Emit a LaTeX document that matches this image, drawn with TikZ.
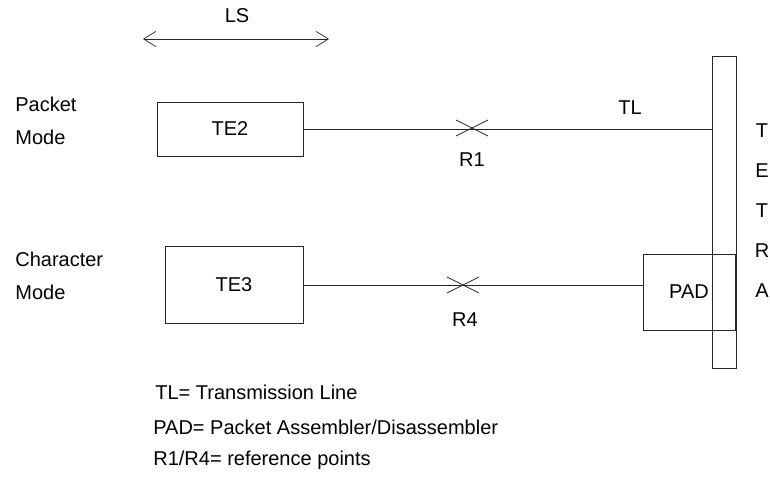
\documentclass[tikz,border=0pt]{standalone}
\usepackage{fontspec}
\setmainfont{Liberation Sans}
\usetikzlibrary{arrows.meta}

\tikzset{
  box/.style = {draw, line width = 0.7pt, minimum width = #1, inner sep = 0pt},
  txt/.style = {font = \fontsize{20}{33}\selectfont, text = black, inner sep = 0pt},
}

\begin{document}
\begin{tikzpicture}[x = 1pt, y = -1pt, line width = 0.7pt, black!85]
\useasboundingbox (0, 0) rectangle (770, 488);

% terminals
\node[box = 146pt, minimum height = 54pt, txt] (te2) at (230, 129) {TE2};
\node[box = 138pt, minimum height = 77pt, txt] (te3) at (234, 285) {TE3};

\node[txt, anchor = west, align = left] (packet) at (15, 121) {Packet\\Mode};
\node[txt, anchor = west, align = left] (charac) at (15, 276) {Character\\Mode};

% LS
\coordinate (lsl) at (143, 39);
\coordinate (lsr) at (329, 39);
\draw[{Straight Barb[length = 12pt, width = 15pt]}-{Straight Barb[length = 12pt, width = 15pt]}] (lsl) -- (lsr);
\node[txt] (ls) at (237, 16) {LS};

% TETRA bar and PAD
\node[box = 24pt, minimum height = 312pt] (tetra) at (724, 212) {};
\node[box = 92pt, minimum height = 76pt, txt] (pad) at (689, 292) {PAD};

\foreach \l [count = \i] in {T, E, T, R, A}
  \node[txt] (tetra-\i) at (762, 91 + 40*\i) {\l};

% lines
\draw (te2.east) -- (te2.east -| tetra.west);
\node[txt] (tl) at (630, 108) {TL};

\coordinate (r1) at (472, 128);
\draw (r1) ++(-16, -8) -- (r1) -- +(-16, 8);
\draw (r1) ++(16, -8) -- (r1) -- +(16, 8);
\node[txt] (r1l) at (472, 160) {R1};

\draw (te3.east) -- (te3.east -| pad.west);
\coordinate (r4) at (463, 285);
\draw (r4) ++(-16, -8) -- (r4) -- +(-16, 8);
\draw (r4) ++(16, -8) -- (r4) -- +(16, 8);
\node[txt] (r4l) at (465, 320) {R4};

% legend
\node[txt, anchor = west] (leg1) at (155, 392) {TL= Transmission Line};
\node[txt, anchor = west] (leg2) at (153, 427) {PAD= Packet Assembler/Disassembler};
\node[txt, anchor = west] (leg3) at (153, 460) {R1/R4= reference points};

\end{tikzpicture}
\end{document}
